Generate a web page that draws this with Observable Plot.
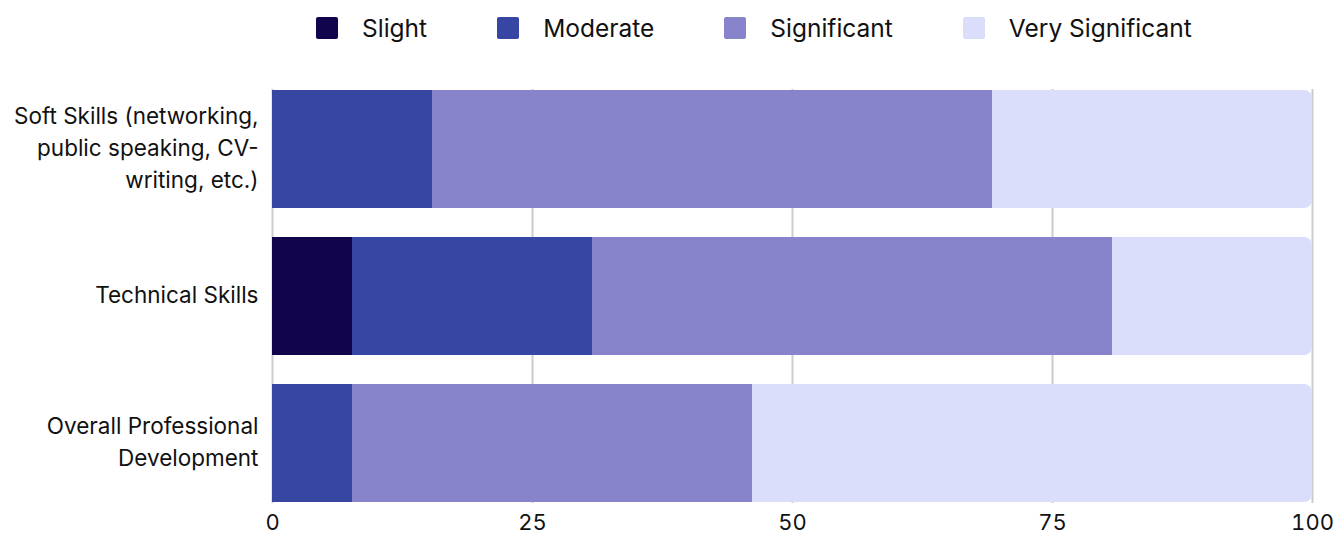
<!DOCTYPE html>
<html>
<head>
<meta charset="utf-8">
<script src="https://cdn.jsdelivr.net/npm/d3@7"></script>
<script src="https://cdn.jsdelivr.net/npm/@observablehq/plot@0.6"></script>
<style>
  html, body { margin: 0; padding: 0; background: #fff; }
  body { width: 1335px; height: 540px; overflow: hidden; font-family: Inter, "Noto Sans", sans-serif; }
  #legend { height: 60px; display: flex; align-items: center; padding-left: 316px; padding-bottom: 4px; box-sizing: border-box; font-size: 24.5px; color: #111; }
  .item { display: flex; align-items: center; margin-right: 70px; }
  .sw { width: 22px; height: 22px; border-radius: 2px; margin-right: 24px; }
  #chart svg { display: block; }
</style>
</head>
<body>
<div id="legend"></div>
<div id="chart"></div>
<script>
const categories = [
  "Soft Skills (networking,\npublic speaking, CV-\nwriting, etc.)",
  "Technical Skills",
  "Overall Professional\nDevelopment"
];
const levels = ["Slight", "Moderate", "Significant", "Very Significant"];
const colors = ["#12034d", "#3745a3", "#8784cc", "#dbdefb"];
const slight = [0, 7.69, 0];
const moderate = [15.38, 23.08, 7.69];
const significant = [53.85, 50, 38.46];
const verySignificant = [30.77, 19.23, 53.85];
const xTicks = [0, 25, 50, 75, 100];

const series = [slight, moderate, significant, verySignificant];
const data = [];
categories.forEach((c, i) => {
  let acc = 0;
  levels.forEach((l, j) => {
    const v = series[j][i];
    data.push({category: c, level: l, value: v, x1: acc, x2: acc + v});
    acc += v;
  });
});
const lastLevel = levels[levels.length - 1];
const lastData = data.filter(d => d.level === lastLevel);
const otherData = data.filter(d => d.level !== lastLevel && d.value > 0);

// legend
const lg = document.getElementById("legend");
levels.forEach((l, j) => {
  const it = document.createElement("div");
  it.className = "item";
  it.innerHTML = `<div class="sw" style="background:${colors[j]}"></div><span>${l}</span>`;
  lg.appendChild(it);
});

const barOpts = {x1: "x1", x2: "x2", y: "category", fill: "level"};
const chart = Plot.plot({
  width: 1335,
  height: 480,
  marginTop: 29,
  marginBottom: 37,
  marginLeft: 272,
  marginRight: 23,
  style: {fontFamily: "Inter, 'Noto Sans', sans-serif", color: "#111", background: "#fff"},
  x: {domain: [0, 100], ticks: xTicks},
  y: {domain: categories, paddingInner: 0.2, paddingOuter: 0, label: null},
  color: {domain: levels, range: colors},
  marks: [
    Plot.ruleX(xTicks, {stroke: "#cccccc", strokeWidth: 2}),
    Plot.barX(lastData, {...barOpts, rx: 8}),
    Plot.barX(lastData, {...barOpts, insetRight: 12, shapeRendering: "crispEdges"}),
    Plot.barX(otherData, {...barOpts, shapeRendering: "crispEdges"}),
    Plot.axisX({ticks: xTicks, tickSize: 0, tickPadding: 11, fontSize: 22, label: null}),
    Plot.axisY({tickSize: 0, tickPadding: 14, fontSize: 22.5, lineHeight: 1.42, dy: -4, label: null})
  ]
});
document.getElementById("chart").appendChild(chart);
</script>
</body>
</html>
